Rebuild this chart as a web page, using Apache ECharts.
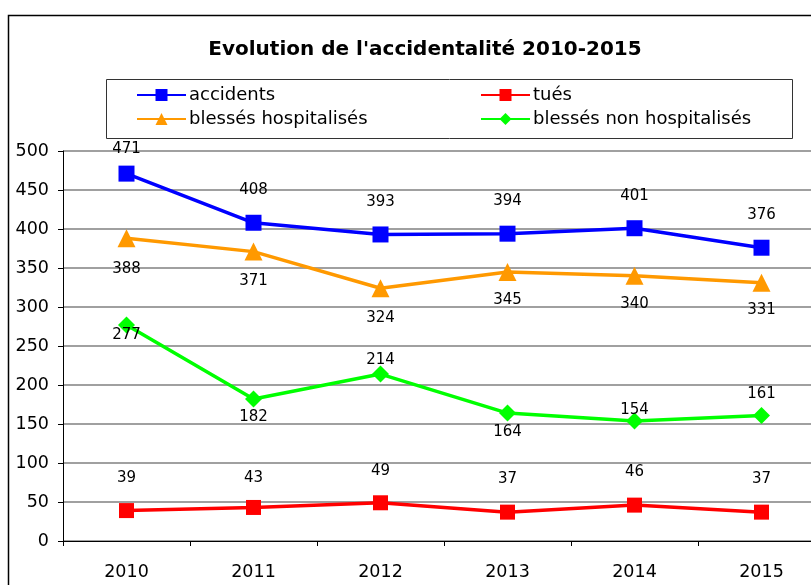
<!DOCTYPE html>
<html>
<head>
<meta charset="utf-8">
<script src="https://cdn.jsdelivr.net/npm/echarts@6/dist/echarts.min.js"></script>
<style>
  html, body { margin: 0; padding: 0; background: #fff; overflow: hidden; }
  #chart { width: 830px; height: 585px; }
</style>
</head>
<body>
<div id="chart"></div>
<script>
const years = ['2010', '2011', '2012', '2013', '2014', '2015'];
const accidents = [471, 408, 393, 394, 401, 376];
const tues = [39, 43, 49, 37, 46, 37];
const blessesHosp = [388, 371, 324, 345, 340, 331];
const blessesNonHosp = [277, 182, 214, 164, 154, 161];

// vertical shift of each value label from its point (px)
const shiftAcc = [-25, -33, -32, -33, -32, -33];
const shiftTues = [-32, -29, -32, -33, -33, -33];
const shiftHosp = [31, 29, 30, 28, 28, 27];
const shiftNonHosp = [10, 18, -14, 19, -11, -21];

const font = 'DejaVu Sans';

const withLabels = (values, shifts) => values.map((v, i) => ({
  value: v,
  label: { offset: [0, shifts[i]] }
}));

const makeSeries = (name, values, shifts, color, symbol, size) => ({
  name,
  type: 'line',
  data: withLabels(values, shifts),
  symbol,
  symbolSize: size,
  color,
  lineStyle: { color, width: 3.5 },
  itemStyle: { color },
  label: {
    show: true,
    position: 'inside',
    color: '#000',
    fontFamily: font,
    fontSize: 15
  },
  emphasis: { disabled: true },
  animation: false
});

// the plot runs past the right edge of the 811px window, so the canvas is a bit wider
const chart = echarts.init(document.getElementById('chart'));

const legendBase = {
  orient: 'vertical',
  itemWidth: 49,
  itemHeight: 15,
  itemGap: 6,
  padding: 0,
  selectedMode: false,
  textStyle: { fontFamily: font, fontSize: 18, color: '#000', padding: [0, 0, 0, -2] }
};

chart.setOption({
  backgroundColor: '#fff',
  animation: false,
  title: {
    text: "Evolution de l'accidentalité 2010-2015",
    left: 420,
    top: 35,
    textAlign: 'center',
    textStyle: { fontFamily: font, fontSize: 20, fontWeight: 'bold', color: '#000' }
  },
  legend: [
    Object.assign({}, legendBase, { left: 136, top: 86, data: ['accidents', 'blessés hospitalisés'] }),
    Object.assign({}, legendBase, { left: 480, top: 86, data: ['tués', 'blessés non hospitalisés'] })
  ],
  graphic: [
    {
      type: 'rect',
      shape: { x: 8.5, y: 15.5, width: 900, height: 700 },
      style: { fill: null, stroke: '#000', lineWidth: 1.5 },
      silent: true
    },
    {
      type: 'rect',
      shape: { x: 106.5, y: 79.5, width: 686, height: 59 },
      style: { fill: null, stroke: '#333', lineWidth: 1 },
      silent: true
    }
  ],
  grid: { left: 63, top: 151, bottom: 44, right: 5, containLabel: false },
  xAxis: {
    type: 'category',
    data: years,
    boundaryGap: true,
    axisLine: { lineStyle: { color: '#000', width: 1 } },
    axisTick: { show: true, alignWithLabel: false, length: 5, lineStyle: { color: '#000' } },
    axisLabel: { fontFamily: font, fontSize: 17.5, color: '#000', margin: 22 },
    splitLine: { show: false }
  },
  yAxis: {
    type: 'value',
    min: 0,
    max: 500,
    interval: 50,
    axisLine: { show: true, lineStyle: { color: '#000', width: 1 } },
    axisTick: { show: true, length: 5, lineStyle: { color: '#000' } },
    axisLabel: { fontFamily: font, fontSize: 17.5, color: '#000', margin: 14 },
    splitLine: { lineStyle: { color: '#808080', width: 1.5 } }
  },
  series: [
    makeSeries('accidents', accidents, shiftAcc, '#0000ff', 'rect', 16),
    makeSeries('tués', tues, shiftTues, '#ff0000', 'rect', 15),
    makeSeries('blessés hospitalisés', blessesHosp, shiftHosp, '#ff9900', 'triangle', 18),
    makeSeries('blessés non hospitalisés', blessesNonHosp, shiftNonHosp, '#00ff00', 'diamond', 17)
  ]
});
</script>
</body>
</html>
